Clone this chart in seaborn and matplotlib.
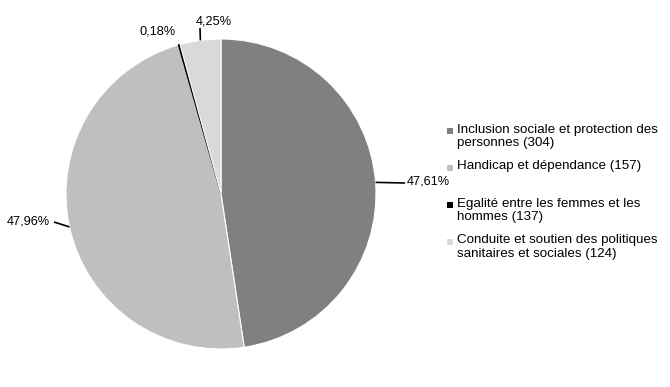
import numpy as np
import matplotlib
matplotlib.use("Agg")
import matplotlib.pyplot as plt
import seaborn as sns
from matplotlib.patches import Rectangle

sns.set_theme(style="white")
plt.rcParams['font.family'] = ['Liberation Sans', 'DejaVu Sans']

# ---- data ----
categories = [
    "Inclusion sociale et protection des\npersonnes (304)",
    "Handicap et dépendance (157)",
    "Egalité entre les femmes et les\nhommes (137)",
    "Conduite et soutien des politiques\nsanitaires et sociales (124)",
]
shares = [47.61, 47.96, 0.18, 4.25]
share_labels = ["47,61%", "47,96%", "0,18%", "4,25%"]
colors = ["#808080", "#bfbfbf", "#000000", "#d9d9d9"]

W, H = 670, 387
fig = plt.figure(figsize=(W / 100, H / 100), dpi=100)
ax = fig.add_axes([0, 0, 1, 1])

cx, cy, R = 221, H - 194, 155
wedges, _ = ax.pie(shares, colors=colors, startangle=90, counterclock=False,
                   center=(cx, cy), radius=R, frame=True,
                   wedgeprops=dict(edgecolor="white", linewidth=0.8))
wedges[2].set_edgecolor("black")
wedges[2].set_linewidth(0.9)
ax.set_xlim(0, W)
ax.set_ylim(0, H)
ax.axis("off")

# label positions (pixel layout, y from top) and leader end points
label_pos = [(428, 181), (28, 222), (158, 32), (214, 21)]
leader_end = [(405, 183), (54, 222), None, (200, 28)]

for w, txt, (lx, ly), le in zip(wedges, share_labels, label_pos, leader_end):
    ang = np.deg2rad((w.theta1 + w.theta2) / 2)
    ex, ey = cx + R * np.cos(ang), cy + R * np.sin(ang)
    if le is not None:
        ax.plot([ex, le[0]], [ey, H - le[1]], color="black", lw=1.2,
                solid_capstyle="butt")
    ax.text(lx, H - ly, txt, ha="center", va="center", fontsize=9.2,
            color="black")

# legend (manual layout)
legend_y = [131, 168, 205, 242]   # first-line centre, px from top
for lab, col, y in zip(categories, colors, legend_y):
    ax.add_patch(Rectangle((447, H - y - 3), 6, 6, facecolor=col,
                           edgecolor="none"))
    ax.text(457, H - y + 7.5, lab, ha="left", va="top", fontsize=9.6,
            color="black", linespacing=1.15)

fig.savefig("out.png", dpi=100)
